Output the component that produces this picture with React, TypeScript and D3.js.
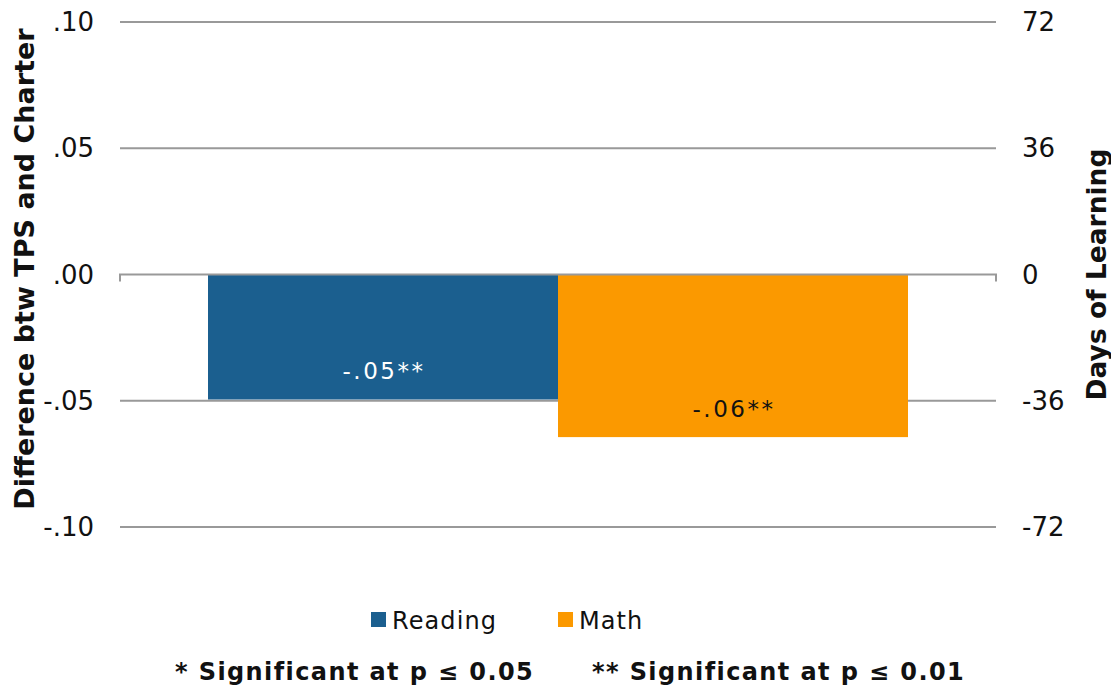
import { useEffect, useRef } from 'react'
import * as d3 from 'd3'

const categories = ['Reading', 'Math']
const values = [-0.0495, -0.0644]
const valueLabels = ['-.05**', '-.06**']
const colors = ['#1b5f8f', '#fb9900']
const leftTicks = [0.1, 0.05, 0, -0.05, -0.1]
const leftTickLabels = ['.10', '.05', '.00', '-.05', '-.10']
const rightTicks = [72, 36, 0, -36, -72]
const footnotes = ['* Significant at p \u2264 0.05', '** Significant at p \u2264 0.01']

export default function App() {
  const ref = useRef<SVGSVGElement | null>(null)

  useEffect(() => {
    if (!ref.current) return
    const width = 1111
    const height = 690
    const font = "'DejaVu Sans', Verdana, sans-serif"
    const left = 120
    const right = 996
    const top = 22
    const bottom = 527

    const svg = d3.select(ref.current)
    svg.selectAll('*').remove()
    svg.attr('width', width).attr('height', height)

    const y = d3.scaleLinear().domain([-0.1, 0.1]).range([bottom, top])
    const y2 = d3.scaleLinear().domain([-72, 72]).range([bottom, top])

    const x = d3
      .scaleBand()
      .domain(categories)
      .range([left, right])
      .paddingInner(0)
      .paddingOuter(88 / 350)

    // gridlines (zero line drawn later, over the bars)
    svg
      .append('g')
      .selectAll('line')
      .data(leftTicks.filter((d) => d !== 0))
      .enter()
      .append('line')
      .attr('x1', left)
      .attr('x2', right)
      .attr('y1', (d) => y(d))
      .attr('y2', (d) => y(d))
      .attr('stroke', '#999')
      .attr('stroke-width', 2)

    svg
      .append('g')
      .selectAll('rect')
      .data(values)
      .enter()
      .append('rect')
      .attr('x', (_, i) => x(categories[i]) ?? 0)
      .attr('width', x.bandwidth())
      .attr('y', (d) => y(Math.max(0, d)))
      .attr('height', (d) => Math.abs(y(d) - y(0)))
      .attr('fill', (_, i) => colors[i])

    const z = y(0)
    svg
      .append('path')
      .attr('d', `M${left},${z + 7}V${z}H${right}V${z + 7}`)
      .attr('fill', 'none')
      .attr('stroke', '#999')
      .attr('stroke-width', 2)

    // bar labels, near the bar end
    svg
      .append('g')
      .selectAll('text')
      .data(values)
      .enter()
      .append('text')
      .attr('x', (_, i) => (x(categories[i]) ?? 0) + x.bandwidth() / 2 + 1)
      .attr('y', (d) => y(d) - 20)
      .attr('text-anchor', 'middle')
      .attr('font-family', font)
      .attr('font-size', 23)
      .attr('letter-spacing', 2.5)
      .attr('fill', (_, i) => (i === 0 ? '#fff' : '#111'))
      .text((_, i) => valueLabels[i])

    svg
      .append('g')
      .selectAll('text')
      .data(leftTicks)
      .enter()
      .append('text')
      .attr('x', 94)
      .attr('y', (d) => y(d) + 9)
      .attr('text-anchor', 'end')
      .attr('font-family', font)
      .attr('font-size', 26)
      .attr('fill', '#111')
      .text((_, i) => leftTickLabels[i])

    svg
      .append('g')
      .selectAll('text')
      .data(rightTicks)
      .enter()
      .append('text')
      .attr('x', 1022)
      .attr('y', (d) => y2(d) + 9)
      .attr('text-anchor', 'start')
      .attr('font-family', font)
      .attr('font-size', 26)
      .attr('fill', '#111')
      .text((d) => String(d))

    svg
      .append('text')
      .attr('transform', `translate(34,269) rotate(-90)`)
      .attr('text-anchor', 'middle')
      .attr('font-family', font)
      .attr('font-size', 27)
      .attr('font-weight', 'bold')
      .attr('fill', '#111')
      .text('Difference btw TPS and Charter')

    svg
      .append('text')
      .attr('transform', `translate(1106,${z}) rotate(-90)`)
      .attr('text-anchor', 'middle')
      .attr('font-family', font)
      .attr('font-size', 26.5)
      .attr('font-weight', 'bold')
      .attr('fill', '#111')
      .text('Days of Learning')

    // legend
    const legendX = [371, 558]
    const legend = svg
      .append('g')
      .selectAll('g')
      .data(categories)
      .enter()
      .append('g')
      .attr('transform', (_, i) => `translate(${legendX[i]},612)`)
    legend
      .append('rect')
      .attr('width', 15)
      .attr('height', 15)
      .attr('fill', (_, i) => colors[i])
    legend
      .append('text')
      .attr('x', 21)
      .attr('y', 17)
      .attr('font-family', font)
      .attr('font-size', 24)
      .attr('letter-spacing', 1.1)
      .attr('fill', '#111')
      .text((d) => d)

    // footnotes
    const footX = [175, 592]
    svg
      .append('g')
      .selectAll('text')
      .data(footnotes)
      .enter()
      .append('text')
      .attr('x', (_, i) => footX[i])
      .attr('y', 680)
      .attr('font-family', font)
      .attr('font-size', 24)
      .attr('font-weight', 'bold')
      .attr('letter-spacing', 1.4)
      .attr('fill', '#111')
      .text((d) => d)
  }, [])

  return (
    <svg
      ref={ref}
      style={{ position: 'absolute', left: 0, top: 0, background: '#fff' }}
      role="img"
      aria-label="Difference between TPS and Charter"
    />
  )
}
